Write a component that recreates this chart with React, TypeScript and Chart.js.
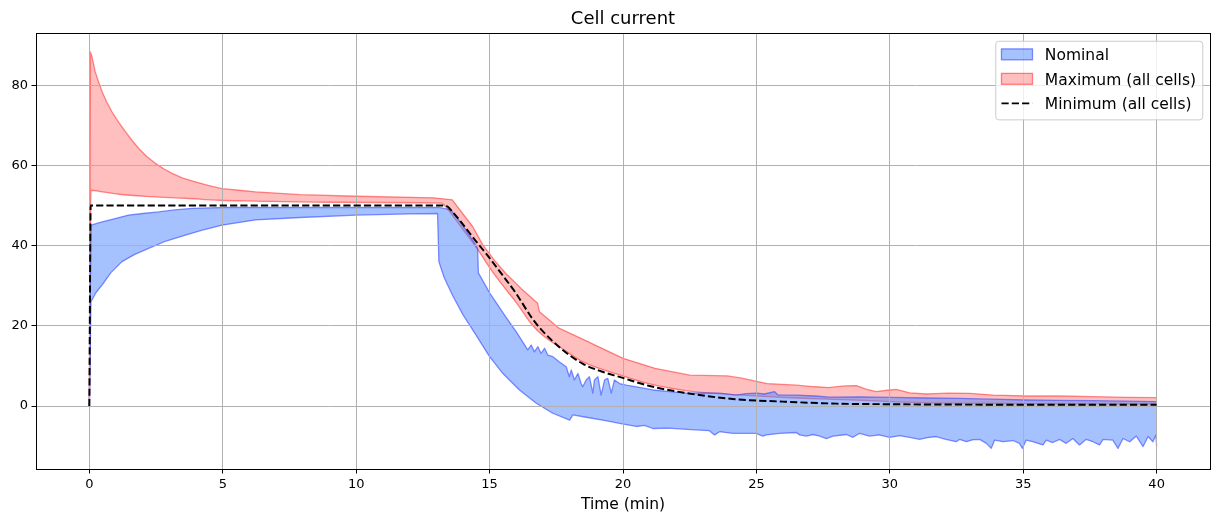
import { useEffect, useRef } from "react";
import { Chart, registerables } from "chart.js";

Chart.register(...registerables);

const FONT = "'DejaVu Sans', 'Liberation Sans', sans-serif";

// Nominal cell current: lower edge of the band (time in min, current in A)
const nominalLowTime = [
  0, 0.06, 0.25, 0.48, 0.8, 1.22, 1.7, 2.35, 2.9, 3.6, 4.2, 4.97, 6.22, 7.9, 10.0, 12.0, 13.05, 13.1,
  13.3, 13.62, 14.0, 14.5, 15.0, 15.5, 16.12, 16.75, 17.37, 18.0, 18.12, 18.62, 19.3, 19.87, 20.5,
  20.8, 21.12, 21.7, 22.4, 22.87, 23.24, 23.43, 23.62, 24.12, 24.99, 25.24, 25.37, 25.87, 26.49,
  26.62, 26.87, 27.12, 27.37, 27.62, 27.87, 28.37, 28.62, 28.87, 29.24, 29.6, 29.99, 30.37, 30.74,
  31.12, 31.4, 31.74, 32.1, 32.49, 32.62, 32.87, 33.12, 33.37, 33.62, 33.8, 33.93, 34.24, 34.61,
  34.86, 34.97, 35.11, 35.36, 35.74, 35.86, 36.11, 36.36, 36.61, 36.86, 37.11, 37.36, 37.61, 37.86,
  37.99, 38.36, 38.55, 38.74, 38.99, 39.24, 39.49, 39.68, 39.86, 39.97, 40.0,
];
const nominalLow = [
  0, 26.0, 28.3, 30.2, 33.2, 36.0, 37.8, 39.7, 41.2, 42.6, 43.8, 45.1, 46.4, 47.0, 47.6, 47.9, 48.0, 36.0,
  32.0, 27.5, 22.8, 17.6, 12.3, 8.1, 4.0, 0.7, -1.8, -3.5, -2.2, -2.8, -3.6, -4.3, -5.1,
  -4.8, -5.6, -5.5, -5.8, -6.0, -6.15, -7.2, -6.4, -6.8, -6.8, -7.5, -7.2, -6.8, -6.6,
  -7.2, -7.5, -7.1, -7.5, -8.1, -7.5, -7.1, -7.8, -6.8, -7.5, -7.2, -7.8, -7.4, -7.8,
  -8.3, -7.9, -7.6, -8.3, -8.9, -8.3, -8.9, -8.4, -8.3, -9.3, -10.55, -8.5, -8.9, -8.6,
  -9.3, -10.55, -8.5, -8.9, -9.7, -8.5, -9.1, -8.3, -9.3, -8.1, -9.7, -8.3, -8.9, -9.7,
  -8.3, -8.5, -10.55, -8.1, -8.9, -7.5, -10.1, -7.6, -8.9, -7.2, -10.1,
];

// Nominal cell current: upper edge of the band
const nominalHighTime = [
  0, 0.06, 0.48, 1.0, 1.47, 2.0, 2.6, 3.2, 3.85, 5.1, 8.0, 13.1, 13.55, 14.0, 14.3, 14.55, 14.58,
  15.0, 15.6, 16.0, 16.43, 16.56, 16.68, 16.81, 16.93, 17.06, 17.18, 17.37, 17.62, 17.87, 17.99,
  18.06, 18.18, 18.31, 18.43, 18.49, 18.62, 18.74, 18.87, 18.93, 19.06, 19.18, 19.31, 19.43, 19.56,
  19.68, 19.87, 20.12, 20.5, 21.12, 21.74, 22.37, 22.99, 23.62, 24.24, 24.6, 25.0, 25.3, 25.68,
  25.8, 26.5, 27.2, 27.74, 28.87, 30.1, 31.4, 32.6, 33.8, 35.1, 36.3, 37.6, 38.8, 40.0,
];
const nominalHigh = [
  0, 45.1, 45.9, 46.8, 47.6, 48.0, 48.4, 48.9, 49.3, 49.5, 49.5, 49.5, 48.9, 45.0, 42.0, 39.3, 33.2,
  28.2, 22.3, 18.5, 14.0, 15.2, 13.5, 14.8, 13.1, 14.4, 12.7, 12.3, 11.0, 9.8, 7.3,
  9.0, 6.5, 8.1, 5.6, 4.8, 6.5, 7.3, 3.2, 6.5, 7.3, 2.7, 6.5, 6.9, 3.2,
  6.5, 5.6, 5.2, 4.8, 4.0, 3.6, 3.2, 3.3, 3.2, 2.7, 3.1, 3.2, 3.0, 3.6,
  2.8, 2.7, 2.5, 2.2, 2.3, 2.15, 2.0, 1.9, 1.7, 1.5, 1.4, 1.33, 1.2, 1.1,
];

// Maximum over all cells: lower edge of the band
const maxLowTime = [
  0, 0.06, 0.48, 1.1, 2.35, 3.6, 4.85, 6.2, 9.0, 13.2, 13.4, 14.0, 14.56, 15.0, 15.5, 16.0, 16.6, 17.0,
  17.7, 18.5, 19.9, 21.0, 22.4, 24.0, 26.5, 29.0, 30.0, 31.5, 35.0, 40.0,
];
const maxLow = [
  0, 53.8, 53.4, 52.8, 52.2, 51.8, 51.3, 51.1, 50.8, 50.6, 49.3, 44.0, 39.0, 34.5, 30.0, 25.8, 20.2, 17.6,
  14.4, 11.0, 7.7, 5.5, 3.8, 2.9, 2.0, 1.4, 1.1, 0.8, 0.6, 0.5,
];

// Maximum over all cells: upper edge of the band
const maxHighTime = [
  0, 0.04, 0.1, 0.22, 0.35, 0.48, 0.65, 0.85, 1.1, 1.35, 1.6, 1.85, 2.15, 2.47, 2.8, 3.1, 3.5, 3.97,
  4.45, 4.97, 5.6, 6.22, 7.9, 10.0, 12.9, 13.6, 14.37, 14.75, 15.2, 15.6, 16.2, 16.8, 16.87, 17.6,
  18.7, 20.0, 21.2, 22.5, 23.9, 24.4, 25.4, 26.5, 27.2, 27.7, 28.3, 28.75, 29.1, 29.49, 29.99, 30.24,
  30.74, 31.37, 32.2, 32.99, 33.87, 35.11, 36.36, 37.61, 38.86, 40.0,
];
const maxHigh = [
  0, 88.3, 87.0, 83.3, 80.7, 78.3, 75.8, 73.3, 70.7, 68.4, 66.2, 64.2, 62.2, 60.5, 59.1, 58.0, 56.8, 55.9,
  55.0, 54.2, 53.8, 53.4, 52.7, 52.3, 51.9, 51.4, 44.7, 40.1, 36.2, 33.1, 29.2, 25.6, 23.5, 19.4,
  16.0, 11.9, 9.4, 7.7, 7.5, 7.0, 5.6, 5.2, 4.8, 4.6, 5.0, 5.1, 4.2, 3.6, 4.0, 4.15,
  3.3, 3.0, 3.2, 3.16, 2.74, 2.5, 2.5, 2.33, 2.16, 2.08,
];

// Minimum over all cells
const minTime = [
  0, 0.05, 13.2, 13.37, 13.6, 14.0, 14.5, 14.87, 15.5, 16.0, 16.6, 17.0, 17.7, 18.5, 19.2, 19.9, 21.0,
  22.4, 24.2, 26.0, 28.0, 30.0, 33.0, 36.0, 40.0,
];
const minCurrent = [
  0, 50, 50, 49.9, 48.5, 45.3, 41.0, 38.0, 32.5, 28.0, 21.8, 18.6, 14.2, 10.5, 8.6, 7.2, 5.0,
  3.2, 1.7, 1.1, 0.6, 0.45, 0.35, 0.3, 0.3,
];

const seriesLabels = ["Nominal", "Maximum (all cells)", "Minimum (all cells)"];
const chartTitle = "Cell current";
const xAxisTitle = "Time (min)";
const xTicks = [0, 5, 10, 15, 20, 25, 30, 35, 40];
const yTicks = [0, 20, 40, 60, 80];

const NOMINAL_FILL = "rgba(75, 133, 255, 0.5)";
const NOMINAL_EDGE = "rgba(50, 70, 255, 0.6)";
const MAX_FILL = "rgba(255, 0, 0, 0.25)";
const MAX_EDGE = "rgba(255, 40, 40, 0.55)";
const DASH = [7.2, 3.1];

const pts = (t: number[], v: number[]) => t.map((x, i) => ({ x, y: v[i] }));

const align = (p: number) => Math.round(p - 0.5) + 0.5;

// Grid above the filled bands, frame and legend on top of everything
const overlayPlugin = {
  id: "gridFrameLegend",
  beforeDatasetDraw(chart: any, args: any) {
    if (args.index !== 4) return;
    const { ctx, chartArea: a, scales } = chart;
    ctx.save();
    ctx.strokeStyle = "#b0b0b0";
    ctx.lineWidth = 1;
    ctx.beginPath();
    for (const v of xTicks) {
      const p = align(scales.x.getPixelForValue(v));
      ctx.moveTo(p, a.top);
      ctx.lineTo(p, a.bottom);
    }
    for (const v of yTicks) {
      const p = align(scales.y.getPixelForValue(v));
      ctx.moveTo(a.left, p);
      ctx.lineTo(a.right, p);
    }
    ctx.stroke();
    ctx.restore();
  },
  afterDatasetsDraw(chart: any) {
    const { ctx, chartArea: a } = chart;
    ctx.save();
    ctx.strokeStyle = "#000";
    ctx.lineWidth = 1;
    const l = align(a.left), r = align(a.right), t = align(a.top), b = align(a.bottom);
    ctx.strokeRect(l, t, r - l, b - t);

    // legend
    const fs = 15.5;
    ctx.font = `${fs}px ${FONT}`;
    const textW = Math.max(...seriesLabels.map((s) => ctx.measureText(s).width));
    const pad = 0.4 * fs, hl = 2 * fs, hp = 0.8 * fs;
    const boxW = pad + hl + hp + textW + pad;
    const right = a.right - 0.5 * fs;
    const top = a.top + 0.5 * fs;
    const left = right - boxW;
    const rowGap = 24.5;
    const firstRow = top + 13.6;
    const boxH = 13.6 + 2 * rowGap + 16;
    ctx.beginPath();
    ctx.roundRect(left + 0.5, top + 0.5, boxW, boxH, 3);
    ctx.fillStyle = "rgba(255,255,255,0.8)";
    ctx.fill();
    ctx.strokeStyle = "#cccccc";
    ctx.stroke();

    const ds = chart.data.datasets;
    const hx = left + pad;
    const entries = [
      { fill: ds[3].backgroundColor, edge: ds[3].borderColor },
      { fill: ds[1].backgroundColor, edge: ds[1].borderColor },
      null,
    ];
    entries.forEach((e, i) => {
      const cy = firstRow + i * rowGap;
      if (e) {
        ctx.fillStyle = e.fill;
        ctx.fillRect(hx, cy - 5.45, hl, 10.9);
        ctx.strokeStyle = e.edge;
        ctx.lineWidth = 1.3;
        ctx.strokeRect(hx, cy - 5.45, hl, 10.9);
      } else {
        ctx.strokeStyle = ds[4].borderColor;
        ctx.lineWidth = ds[4].borderWidth;
        ctx.setLineDash(DASH);
        ctx.beginPath();
        ctx.moveTo(hx, cy);
        ctx.lineTo(hx + hl, cy);
        ctx.stroke();
        ctx.setLineDash([]);
      }
      ctx.fillStyle = "#000";
      ctx.textBaseline = "alphabetic";
      ctx.textAlign = "left";
      ctx.fillText(seriesLabels[i], hx + hl + hp, cy + 5.7);
    });
    ctx.restore();
  },
};

export default function App() {
  const ref = useRef<HTMLCanvasElement>(null);

  useEffect(() => {
    const band = {
      pointRadius: 0,
      borderWidth: 1.3,
      tension: 0,
      borderJoinStyle: "round" as const,
    };
    const chart = new Chart(ref.current!, {
      type: "line",
      data: {
        datasets: [
          { ...band, label: seriesLabels[1] + " low", data: pts(maxLowTime, maxLow), borderColor: MAX_EDGE, backgroundColor: MAX_FILL, fill: false, order: 5, cubicInterpolationMode: "monotone" },
          { ...band, label: seriesLabels[1], data: pts(maxHighTime, maxHigh), borderColor: MAX_EDGE, backgroundColor: MAX_FILL, fill: 0, order: 6 },
          { ...band, label: seriesLabels[0] + " low", data: pts(nominalLowTime, nominalLow), borderColor: NOMINAL_EDGE, backgroundColor: NOMINAL_FILL, fill: false, order: 3 },
          { ...band, label: seriesLabels[0], data: pts(nominalHighTime, nominalHigh), borderColor: NOMINAL_EDGE, backgroundColor: NOMINAL_FILL, fill: 2, order: 4 },
          { label: seriesLabels[2], data: pts(minTime, minCurrent), borderColor: "#000", borderWidth: 1.95, borderDash: DASH, pointRadius: 0, fill: false, tension: 0, order: 1, cubicInterpolationMode: "monotone" },
        ],
      },
      options: {
        responsive: false,
        animation: false,
        devicePixelRatio: 1,
        events: [],
        layout: { padding: { left: 0, right: 5, top: 0, bottom: 0 } },
        plugins: {
          legend: { display: false },
          tooltip: { enabled: false },
          title: {
            display: true,
            text: chartTitle,
            fullSize: false,
            color: "#000",
            font: { family: FONT, size: 18, weight: "normal", lineHeight: 1.2 },
            padding: { top: 9, bottom: 2.4 },
          },
        },
        scales: {
          x: {
            type: "linear",
            min: -2,
            max: 42,
            afterFit: (s: any) => { s.height = 47; },
            afterBuildTicks: (s: any) => { s.ticks = xTicks.map((value) => ({ value })); },
            grid: { drawOnChartArea: false, drawTicks: true, tickLength: 4.5, tickColor: "#000", tickWidth: 1, color: "rgba(0,0,0,0)" },
            border: { display: false },
            ticks: { autoSkip: false, maxRotation: 0, color: "#000", padding: 3, font: { family: FONT, size: 13 } },
            title: { display: true, text: xAxisTitle, color: "#000", font: { family: FONT, size: 15.5 }, padding: { top: 0, bottom: 2 } },
          },
          y: {
            type: "linear",
            min: -15.7,
            max: 93,
            afterFit: (s: any) => { s.width = 36; },
            afterBuildTicks: (s: any) => { s.ticks = yTicks.map((value) => ({ value })); },
            grid: { drawOnChartArea: false, drawTicks: true, tickLength: 4.5, tickColor: "#000", tickWidth: 1, color: "rgba(0,0,0,0)" },
            border: { display: false },
            ticks: { autoSkip: false, color: "#000", padding: 3.5, font: { family: FONT, size: 13 } },
          },
        },
      },
      plugins: [overlayPlugin],
    });
    return () => chart.destroy();
  }, []);

  return (
    <div style={{ position: "absolute", left: 0, top: 0, width: 1215, height: 516, background: "#fff" }}>
      <canvas ref={ref} width={1215} height={516} style={{ display: "block" }} />
    </div>
  );
}
